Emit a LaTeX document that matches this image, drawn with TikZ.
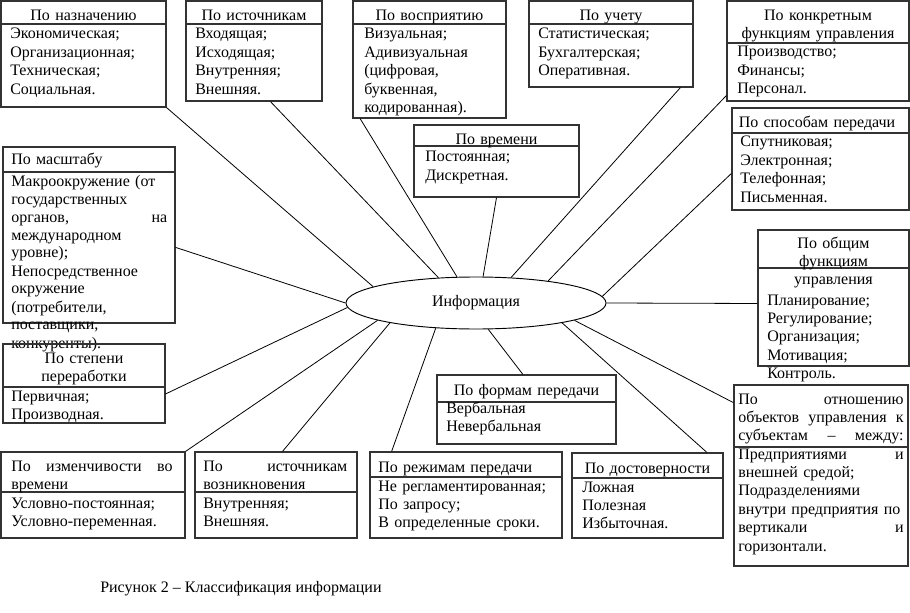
\documentclass[tikz,border=0pt]{standalone}
\usepackage{fontspec}
\setmainfont{Liberation Serif}
\usetikzlibrary{shapes.geometric,fit,calc}

\begin{document}
\begin{tikzpicture}[x=0.75pt,y=-0.75pt,
    box/.style={draw=black!80, line width=0.9pt, inner sep=0pt},
    txt/.style={inner sep=0pt, font=\fontsize{12}{13.8}\selectfont},
    head/.style={txt, anchor=base, align=center, text width=135pt},
    body/.style={txt, anchor=base west, align=left, text width=135pt},
    link/.style={line width=0.6pt}]
    \useasboundingbox (0,0) rectangle (910,613);
    \node[txt, draw, line width=0.7pt, ellipse, minimum width=195pt, minimum height=39pt] (info) at (476,303) {Информация};

    \node[box, fit={(1,1) (166,107)}] (nazn) {};
    \draw[box] (nazn.west |- 0,24) -- (nazn.east |- 0,24);
    \node[head] (nazn-h) at (83.5,20.5) {По назначению};
    \node[body] (nazn-b) at (10,39) {Экономическая;\\Организационная;\\Техническая;\\Социальная.};

    \node[box, fit={(186,1) (322,101)}] (istoch) {};
    \draw[box] (istoch.west |- 0,24) -- (istoch.east |- 0,24);
    \node[head] (istoch-h) at (254,20.5) {По источникам};
    \node[body] (istoch-b) at (195,39) {Входящая;\\Исходящая;\\Внутренняя;\\Внешняя.};

    \node[box, fit={(353,1) (506,118)}] (vospr) {};
    \draw[box] (vospr.west |- 0,24) -- (vospr.east |- 0,24);
    \node[head] (vospr-h) at (429.5,20.5) {По восприятию};
    \node[body] (vospr-b) at (364,39) {Визуальная;\\Адивизуальная\\(цифровая,\\буквенная,\\кодированная).};

    \node[box, fit={(529,1) (693,87)}] (uchet) {};
    \draw[box] (uchet.west |- 0,24) -- (uchet.east |- 0,24);
    \node[head] (uchet-h) at (611,20.5) {По учету};
    \node[body] (uchet-b) at (538,39) {Статистическая;\\Бухгалтерская;\\Оперативная.};

    \node[box, fit={(727,1) (909,101)}] (konk) {};
    \draw[box] (konk.west |- 0,43) -- (konk.east |- 0,43);
    \node[head] (konk-h) at (818,20.5) {По конкретным\\функциям управления};
    \node[body] (konk-b) at (737,57) {Производство;\\Финансы;\\Персонал.};

    \node[box, fit={(732,108) (909,210)}] (sposob) {};
    \draw[box] (sposob.west |- 0,133) -- (sposob.east |- 0,133);
    \node[head] (sposob-h) at (817,128) {По способам передачи};
    \node[body] (sposob-b) at (740,147) {Спутниковая;\\Электронная;\\Телефонная;\\Письменная.};

    \node[box, fit={(3,147) (175,323)}] (masht) {};
    \draw[box] (masht.west |- 0,172) -- (masht.east |- 0,172);
    \node[body] (masht-h) at (11,165) {По масштабу};
    \node[body, text width=117pt, font=\fontsize{12}{13.5}\selectfont] (masht-b) at (11,186) {Макроокружение (от\\государственных\\органов,\hfill на\\международном\\уровне);\\Непосредственное\\окружение\\(потребители,\\поставщики,\\конкуренты).};

    \node[box, fit={(414,125) (579,197)}] (vrem) {};
    \draw[box] (vrem.west |- 0,146) -- (vrem.east |- 0,146);
    \node[head] (vrem-h) at (496.5,145) {По времени};
    \node[body] (vrem-b) at (425,162) {Постоянная;\\Дискретная.};

    \node[box, fit={(758,230) (909,366)}] (obsh) {};
    \draw[box] (obsh.west |- 0,268) -- (obsh.east |- 0,268);
    \node[head] (obsh-h) at (833.5,248) {По общим\\функциям\\управления};
    \node[body] (obsh-b) at (767,305) {Планирование;\\Регулирование;\\Организация;\\Мотивация;\\Контроль.};

    \node[box, fit={(3,344) (165,423)}] (stepen) {};
    \draw[box] (stepen.west |- 0,387) -- (stepen.east |- 0,387);
    \node[head] (stepen-h) at (84,363) {По степени\\переработки};
    \node[body] (stepen-b) at (11,401) {Первичная;\\Производная.};

    \node[box, fit={(1,452) (185,538)}] (izmen) {};
    \draw[box] (izmen.west |- 0,492) -- (izmen.east |- 0,492);
    \node[body, text width=121pt] (izmen-h) at (11,471) {По\hfill изменчивости\hfill во\\времени};
    \node[body] (izmen-b) at (11,508) {Условно-постоянная;\\Условно-переменная.};

    \node[box, fit={(195,452) (357,538)}] (vozn) {};
    \draw[box] (vozn.west |- 0,492) -- (vozn.east |- 0,492);
    \node[body, text width=108pt] (vozn-h) at (203,471) {По\hfill источникам\\возникновения};
    \node[body] (vozn-b) at (203,508) {Внутренняя;\\Внешняя.};

    \node[box, fit={(437,375) (616,444)}] (formy) {};
    \draw[box] (formy.west |- 0,402) -- (formy.east |- 0,402);
    \node[head] (formy-h) at (526.5,395) {По формам передачи};
    \node[body] (formy-b) at (446,413) {Вербальная\\Невербальная};

    \node[box, fit={(370,452) (562,538)}] (rezh) {};
    \draw[box] (rezh.west |- 0,477) -- (rezh.east |- 0,477);
    \node[body] (rezh-h) at (378,472) {По режимам передачи};
    \node[body] (rezh-b) at (378,491) {Не регламентированная;\\По запросу;\\В определенные сроки.};

    \node[box, fit={(572,453) (723,538)}] (dost) {};
    \draw[box] (dost.west |- 0,478) -- (dost.east |- 0,478);
    \node[head] (dost-h) at (647.5,473) {По достоверности};
    \node[body] (dost-b) at (582,492) {Ложная\\Полезная\\Избыточная.};

    \node[box, fit={(734,385) (908,566)}] (otnosh) {};
    \draw[box] (otnosh.west |- 0,447) -- (otnosh.east |- 0,447);
    \node[body, text width=124pt] (otnosh-h) at (738,404) {По\hfill отношению\\объектов\hfill управления\hfill к\\субъектам\hfill –\hfill между:};
    \node[body, text width=124pt] (otnosh-b) at (738,459) {Предприятиями\hfill и\\внешней средой;\\Подразделениями\\внутри предприятия по\\вертикали\hfill и\\горизонтали.};

    \node[txt, anchor=base west] (cap) at (100,592) {Рисунок 2 – Классификация информации};

    % связи
    \draw[link] (nazn.south east) -- (info.171);
    \draw[link] ($(istoch.south west)!0.62!(istoch.south east)$) -- (info.146);
    \draw[link] ($(vospr.south west)!0.05!(vospr.south east)$) -- (info.126);
    \draw[link] (vrem.south) -- (info.75);
    \draw[link] ($(uchet.south west)!0.92!(uchet.south east)$) -- (info.36);
    \draw[link] ($(konk.north west)!0.94!(konk.south west)$) -- (info.17);
    \draw[link] ($(sposob.north west)!0.64!(sposob.south west)$) -- (info.3);
    \draw[link] ($(obsh.north west)!0.54!(obsh.south west)$) -- (info.east);
    \draw[link] ($(masht.north east)!0.57!(masht.south east)$) -- (info.west);
    \draw[link] ($(stepen.north east)!0.63!(stepen.south east)$) -- (info.182);
    \draw[link] (izmen.north east) -- (info.190);
    \draw[link] ($(vozn.north west)!0.54!(vozn.north east)$) -- (info.193);
    \draw[link] ($(rezh.north west)!0.115!(rezh.north east)$) -- (info.212);
    \draw[link] ($(formy.north west)!0.48!(formy.north east)$) -- (info.295);
    \draw[link] ($(dost.north west)!0.89!(dost.north east)$) -- (info.347);
    \draw[link] ($(otnosh.north west)!0.1!(otnosh.south west)$) -- (info.350);
\end{tikzpicture}
\end{document}
